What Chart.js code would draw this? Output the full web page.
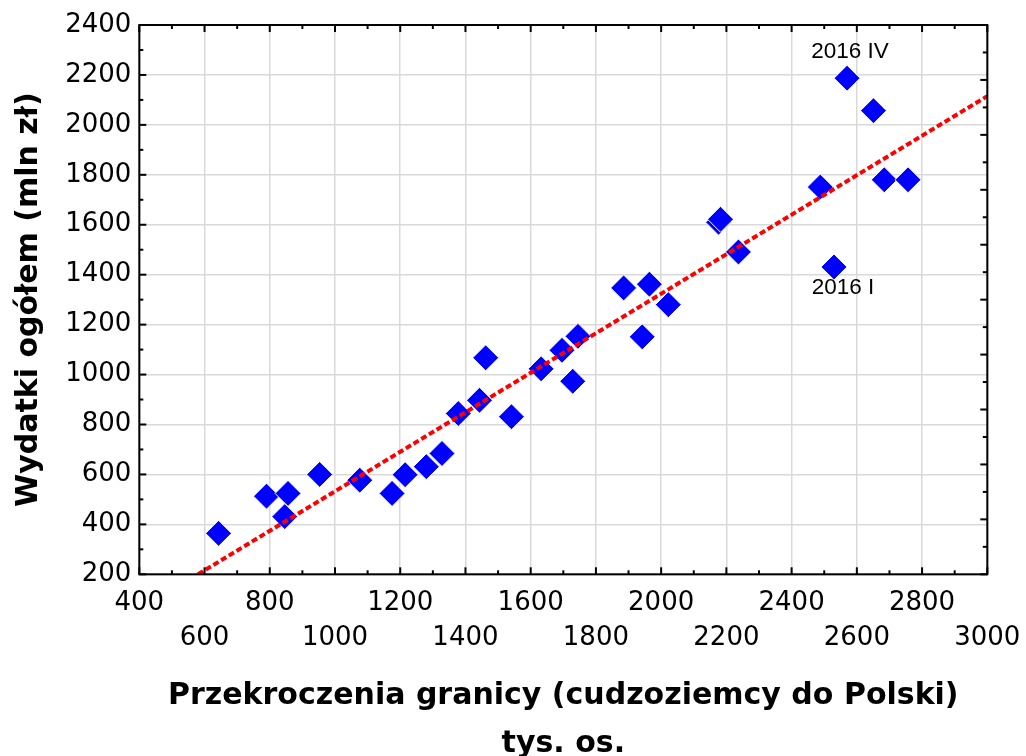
<!DOCTYPE html>
<html>
<head>
<meta charset="utf-8">
<script src="https://cdn.jsdelivr.net/npm/chart.js@4/dist/chart.umd.min.js"></script>
<style>
html,body{margin:0;padding:0;background:#fff;}
canvas{display:block;}
</style>
</head>
<body>
<canvas id="c" width="1026" height="756"></canvas>
<script>
// ---- data ----
const crossings = [643, 790, 856, 846, 953, 1076, 1175, 1215, 1280, 1328, 1378, 1443, 1462, 1541, 1632, 1696, 1729, 1745, 1885, 1942, 1964, 2022, 2176, 2182, 2237, 2488, 2530, 2570, 2651, 2684, 2757];
const spending  = [364, 513, 524, 431, 600, 577, 524, 599, 631, 684, 844, 897, 1067, 831, 1023, 1097, 973, 1153, 1347, 1151, 1362, 1280, 1610, 1622, 1491, 1751, 1431, 2187, 2057, 1780, 1780];
const trendX = [580, 3000];
const trendY = [200, 2115];
const annotLabels = ['2016 IV', '2016 I'];
const annotPoint = [27, 26];
const xTickLabelsTop = ['400', '800', '1200', '1600', '2000', '2400', '2800'];
const xTickLabelsBottom = ['600', '1000', '1400', '1800', '2200', '2600', '3000'];
const yTickLabels = ['200', '400', '600', '800', '1000', '1200', '1400', '1600', '1800', '2000', '2200', '2400'];
const xTitle = ['Przekroczenia granicy (cudzoziemcy do Polski)', 'tys. os.'];
const yTitle = 'Wydatki ogółem (mln zł)';

const points = crossings.map((v, i) => ({x: v, y: spending[i]}));
const trend = trendX.map((v, i) => ({x: v, y: trendY[i]}));

const annotOffsets = [[3, -26], [9, 21]];

const framePlugin = {
  id: 'framePlugin',
  afterDraw(chart) {
    const {ctx, chartArea: a, scales} = chart;
    const x = scales.x, y = scales.y, y2 = scales.y2;
    ctx.save();
    ctx.strokeStyle = '#000';
    ctx.lineWidth = 2;
    ctx.lineCap = 'butt';
    const seg = (x1, y1, x2, y2_) => { ctx.beginPath(); ctx.moveTo(x1, y1); ctx.lineTo(x2, y2_); ctx.stroke(); };
    for (let v = x.min; v <= x.max + 1e-6; v += 100) {
      const px = x.getPixelForValue(v);
      const L = (Math.round(v) % 200 === 0) ? 7 : 4;
      seg(px, a.bottom, px, a.bottom - L);
      seg(px, a.top, px, a.top + L);
    }
    for (let v = y.min; v <= y.max + 1e-6; v += 100) {
      const py = y.getPixelForValue(v);
      const L = (Math.round(v) % 200 === 0) ? 7 : 4;
      seg(a.left, py, a.left + L, py);
    }
    for (let v = y2.min; v <= y2.max + 1e-6; v += 0.5) {
      const py = y2.getPixelForValue(v);
      const L = (Math.abs(v - Math.round(v)) < 1e-6) ? 7 : 4.5;
      seg(a.right, py, a.right - L, py);
    }
    ctx.strokeRect(a.left, a.top, a.right - a.left, a.bottom - a.top);
    ctx.fillStyle = '#000';
    ctx.font = '22.5px "Liberation Sans", Arial, sans-serif';
    ctx.textAlign = 'center';
    ctx.textBaseline = 'middle';
    annotLabels.forEach((t, i) => {
      const idx = annotPoint[i];
      const px = x.getPixelForValue(crossings[idx]) + annotOffsets[i][0];
      const py = y.getPixelForValue(spending[idx]) + annotOffsets[i][1];
      ctx.fillText(t, px, py);
    });
    ctx.restore();
  }
};

new Chart(document.getElementById('c'), {
  data: {
    datasets: [
      {
        type: 'scatter',
        data: points,
        order: 2,
        pointStyle: 'rectRot',
        pointRadius: 13,
        pointHoverRadius: 13,
        backgroundColor: '#0000ff',
        borderColor: '#ffffff',
        borderWidth: 1
      },
      {
        type: 'line',
        data: trend,
        order: 1,
        borderColor: '#ff0000',
        borderWidth: 4,
        borderDash: [6, 3],
        pointRadius: 0,
        fill: false,
        tension: 0
      }
    ]
  },
  options: {
    responsive: false,
    animation: false,
    devicePixelRatio: 1,
    layout: {padding: {top: 25, right: 38.7, left: 0, bottom: 0}},
    plugins: {legend: {display: false}, tooltip: {enabled: false}, title: {display: false}},
    scales: {
      x: {
        type: 'linear',
        position: 'bottom',
        min: 400, max: 3000,
        afterFit: s => { s.height = 181.7; s.paddingLeft = 0; s.paddingRight = 0; },
        border: {display: false},
        grid: {color: '#d9d9d9', lineWidth: 1.5, drawTicks: false},
        ticks: {
          stepSize: 200,
          autoSkip: false,
          maxRotation: 0, minRotation: 0,
          padding: 11.5,
          color: '#000',
          font: {family: '"DejaVu Sans", sans-serif', size: 26, lineHeight: 35 / 26},
          callback: v => {
            const s = String(v);
            if (xTickLabelsTop.includes(s)) return [s];
            if (xTickLabelsBottom.includes(s)) return ['', s];
            return '';
          }
        },
        title: {
          display: true,
          text: xTitle,
          color: '#000',
          font: {family: '"DejaVu Sans", sans-serif', size: 30, weight: 'bold', lineHeight: 48.5 / 30},
          padding: {top: 0, bottom: -12.8}
        }
      },
      y: {
        type: 'linear',
        position: 'left',
        min: 200, max: 2400,
        afterFit: s => { s.width = 139.3; s.paddingTop = 0; s.paddingBottom = 0; },
        border: {display: false},
        grid: {color: '#d9d9d9', lineWidth: 1.5, drawTicks: false},
        ticks: {
          stepSize: 200,
          autoSkip: false,
          padding: 8,
          color: '#000',
          font: {family: '"DejaVu Sans", sans-serif', size: 26},
          callback: v => yTickLabels.includes(String(v)) ? String(v) : ''
        },
        title: {
          display: true,
          text: yTitle,
          color: '#000',
          font: {family: '"DejaVu Sans", sans-serif', size: 30, weight: 'bold', lineHeight: 1.2},
          padding: {top: 11.6, bottom: 0}
        }
      },
      y2: {
        type: 'linear',
        position: 'right',
        display: false,
        min: 0, max: 10
      }
    }
  },
  plugins: [framePlugin]
});
</script>
</body>
</html>
